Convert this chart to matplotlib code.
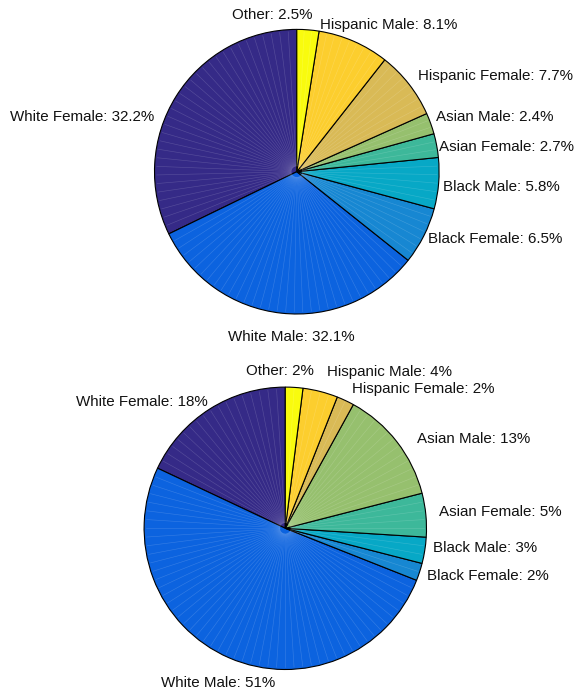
import numpy as np
import matplotlib.pyplot as plt

categories = ["White Female", "White Male", "Black Female", "Black Male",
              "Asian Female", "Asian Male", "Hispanic Female", "Hispanic Male", "Other"]
top_values = [32.2, 32.1, 6.5, 5.8, 2.7, 2.4, 7.7, 8.1, 2.5]
bottom_values = [18, 51, 2, 3, 5, 13, 2, 4, 2]

colors = ["#352A87", "#0C63DF", "#1787D2", "#07A8C6", "#3DB89A",
          "#96C06E", "#D9BA56", "#FCCE2E", "#F9FB0E"]

W, H = 576, 693
plt.rcParams['font.family'] = ['Liberation Sans', 'DejaVu Sans']

fig = plt.figure(figsize=(W / 100, H / 100), dpi=100)
ax = fig.add_axes([0, 0, 1, 1])

# label layout: (x, y in pixels from top, horizontal alignment)
top_label_pos = [(154, 117, 'right'), (291, 337, 'center'), (428, 239, 'left'),
                 (443, 187, 'left'), (439, 147, 'left'), (436, 117, 'left'),
                 (418, 76, 'left'), (320, 25, 'left'), (272, 15, 'center')]
bottom_label_pos = [(208, 402, 'right'), (218, 683, 'center'), (427, 576, 'left'),
                    (433, 548, 'left'), (439, 512, 'left'), (417, 439, 'left'),
                    (352, 389, 'left'), (327, 372, 'left'), (280, 371, 'center')]


def draw(values, cx, cy, r, label_pos, fmt):
    center = (cx, H - cy)
    wedges, _ = ax.pie(values, colors=colors, startangle=90, counterclock=True,
                       center=center, radius=r, frame=True,
                       wedgeprops=dict(edgecolor='black', linewidth=0.8))
    total = sum(values)
    for w, v in zip(wedges, values):
        n = max(1, int(np.ceil(100 * v / total)))
        for k in range(1, n):
            a = np.deg2rad(w.theta1 + (w.theta2 - w.theta1) * k / n)
            ax.plot([center[0] + 0.04 * r * np.cos(a), center[0] + 0.985 * r * np.cos(a)],
                    [center[1] + 0.04 * r * np.sin(a), center[1] + 0.985 * r * np.sin(a)],
                    color='white', alpha=0.16, lw=0.45, zorder=1.5)
    for name, v, (x, y, ha) in zip(categories, values, label_pos):
        ax.text(x, H - y, f"{name}: {fmt(v)}%", ha=ha, va='center',
                fontsize=10.9, color='#111111')


draw(top_values, 296.8, 171.7, 142.3, top_label_pos, lambda v: f"{v:g}")
draw(bottom_values, 285.3, 528.3, 141.2, bottom_label_pos, lambda v: f"{v:g}")

ax.set_xlim(0, W)
ax.set_ylim(0, H)
ax.axis('off')
fig.savefig("out.png", dpi=100)
